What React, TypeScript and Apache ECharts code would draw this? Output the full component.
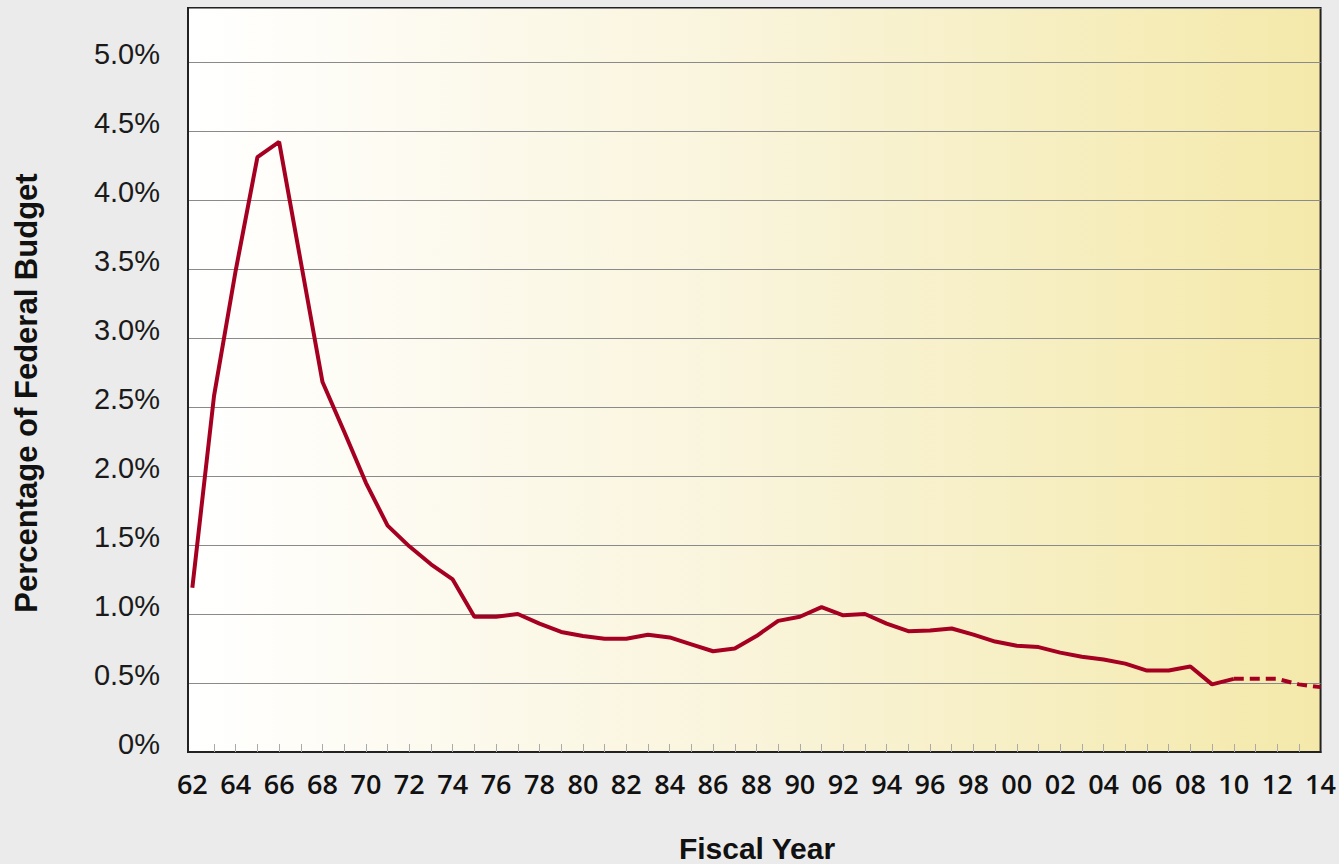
import React, { useEffect, useRef } from "react";
import * as echarts from "echarts";

const years = [
  1962, 1963, 1964, 1965, 1966, 1967, 1968, 1969, 1970, 1971, 1972, 1973, 1974,
  1975, 1976, 1977, 1978, 1979, 1980, 1981, 1982, 1983, 1984, 1985, 1986, 1987,
  1988, 1989, 1990, 1991, 1992, 1993, 1994, 1995, 1996, 1997, 1998, 1999, 2000,
  2001, 2002, 2003, 2004, 2005, 2006, 2007, 2008, 2009, 2010, 2011, 2012, 2013,
  2014,
];
const shares = [
  1.19, 2.58, 3.49, 4.31, 4.42, 3.55, 2.68, 2.32, 1.95, 1.64, 1.49, 1.36, 1.25,
  0.98, 0.98, 1.0, 0.93, 0.87, 0.84, 0.82, 0.82, 0.85, 0.83, 0.78, 0.73, 0.75,
  0.84, 0.95, 0.98, 1.05, 0.99, 1.0, 0.93, 0.875, 0.88, 0.895, 0.85, 0.8, 0.77,
  0.76, 0.72, 0.69, 0.67, 0.64, 0.59, 0.59, 0.62, 0.49, 0.53, 0.53, 0.53, 0.49,
  0.47,
];
const projectionStart = 2010;
const tickYears = years.slice(1, -1);
const labelYears = years.filter((y) => y % 2 === 0);
const yTicks = [0, 0.5, 1, 1.5, 2, 2.5, 3, 3.5, 4, 4.5, 5];

const toX = (y: number) => y - 1900;

export default function App() {
  const ref = useRef<HTMLDivElement>(null);
  useEffect(() => {
    if (!ref.current) return;
    const chart = echarts.init(ref.current, undefined, { renderer: "svg" });
    const actual = years.map((y, i) =>
      y <= projectionStart ? [toX(y), shares[i]] : [toX(y), null]
    );
    const projected = years.map((y, i) =>
      y >= projectionStart ? [toX(y), shares[i]] : [toX(y), null]
    );
    chart.setOption({
      animation: false,
      backgroundColor: "#ebebeb",
      grid: {
        left: 188,
        right: 17,
        top: 8,
        bottom: 112,
        show: true,
        borderColor: "#222",
        borderWidth: 2,
        backgroundColor: new echarts.graphic.LinearGradient(0, 0, 1, 0, [
          { offset: 0, color: "#ffffff" },
          { offset: 0.5, color: "#f9f4da" },
          { offset: 1, color: "#f4e9aa" },
        ]),
      },
      xAxis: {
        type: "value",
        min: 61.8,
        max: 114,
        splitLine: { show: false },
        axisLine: { show: true, lineStyle: { color: "#222", width: 2 } },
        axisTick: {
          show: true,
          inside: true,
          length: 8,
          customValues: tickYears.map(toX),
          lineStyle: { color: "#aaa", width: 1 },
        },
        axisLabel: {
          customValues: labelYears.map(toX),
          formatter: (v: number) =>
            String(Math.round(v) % 100).padStart(2, "0"),
          fontFamily: "Open Sans",
          fontWeight: 600,
          fontSize: 27,
          color: "#111",
          margin: 18,
        },
      },
      yAxis: {
        type: "value",
        min: 0,
        max: 5.39,
        interval: 0.5,
        axisLine: { show: true, lineStyle: { color: "#222", width: 2 } },
        axisTick: { show: false },
        splitLine: { show: true, lineStyle: { color: "#8a8a8a", width: 1 } },
        axisLabel: {
          showMaxLabel: false,
          formatter: (v: number) => {
            if (!yTicks.some((t) => Math.abs(t - v) < 1e-6)) return "";
            return v === 0 ? "0%" : v.toFixed(1) + "%";
          },
          fontFamily: "Liberation Sans, Arial, sans-serif",
          fontSize: 29,
          color: "#1a1a1a",
          margin: 28,
          verticalAlign: "bottom",
          lineHeight: 16,
        },
      },
      graphic: [
        {
          type: "text",
          x: 757,
          y: 848,
          style: {
            text: "Fiscal Year",
            fontFamily: "Liberation Sans, Arial, sans-serif",
            fontWeight: "bold",
            fontSize: 30,
            fill: "#111",
            align: "center",
            verticalAlign: "middle",
          },
        },
        {
          type: "text",
          x: 26,
          y: 393,
          rotation: Math.PI / 2,
          style: {
            text: "Percentage of Federal Budget",
            fontFamily: "Liberation Sans, Arial, sans-serif",
            fontWeight: "bold",
            fontSize: 31,
            fill: "#111",
            align: "center",
            verticalAlign: "middle",
          },
        },
      ],
      series: [
        {
          type: "line",
          data: actual,
          showSymbol: false,
          connectNulls: false,
          lineStyle: { color: "#a50021", width: 4 },
          z: 3,
        },
        {
          type: "line",
          data: projected,
          showSymbol: false,
          connectNulls: false,
          lineStyle: { color: "#a50021", width: 4, type: [10, 6] },
          z: 3,
        },
      ],
    });
    return () => chart.dispose();
  }, []);
  return (
    <div
      ref={ref}
      style={{ position: "fixed", left: 0, top: 0, width: 1339, height: 864 }}
    />
  );
}
